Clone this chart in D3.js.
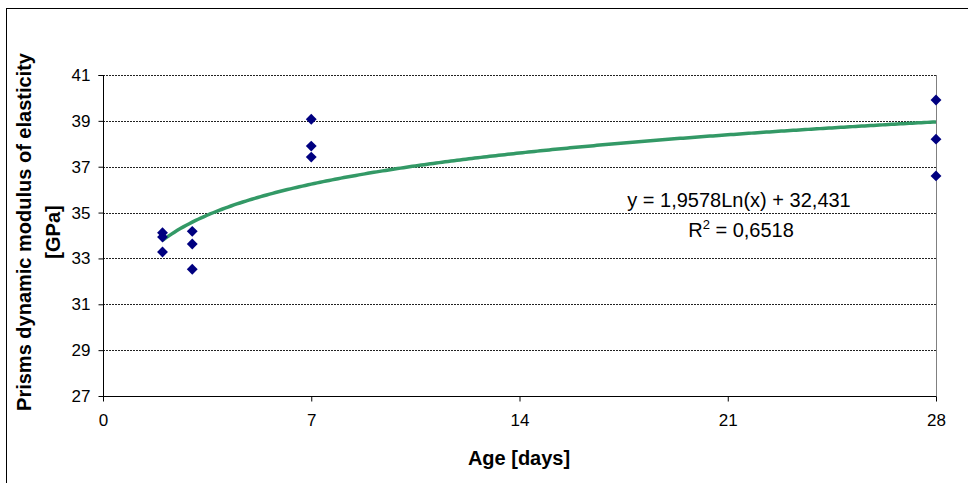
<!DOCTYPE html>
<html>
<head>
<meta charset="utf-8">
<script src="https://cdn.jsdelivr.net/npm/d3@7"></script>
<style>
  html, body { margin: 0; padding: 0; background: #fff; }
  svg { display: block; font-family: "Liberation Sans", Arial, sans-serif; }
</style>
</head>
<body>
<svg id="chart" width="968" height="483"></svg>
<script>
// Measured ages (days) and prism dynamic moduli (GPa)
const ageDays = [2, 2, 2, 3, 3, 3, 7, 7, 7, 28, 28, 28];
const modulusGPa = [34.12, 33.93, 33.28, 34.18, 33.63, 32.53, 39.07, 37.9, 37.42, 39.91, 38.2, 36.6];

// Logarithmic trendline y = a*ln(x) + b
const trendCoef = [1.9578, 32.431];
const trendRange = [2, 28];
const trendLabel = ["y = 1,9578Ln(x) + 32,431", "R", "2", " = 0,6518"];

// Axis ticks
const xTicks = [0, 7, 14, 21, 28];
const yTicks = [27, 29, 31, 33, 35, 37, 39, 41];
const xTitle = "Age [days]";
const yTitle = ["Prisms dynamic modulus of elasticity", "[GPa]"];

const svg = d3.select("#chart");
const plot = { left: 103, right: 936, top: 75, bottom: 396 };

const x = d3.scaleLinear().domain([0, 28]).range([plot.left, plot.right]);
const y = d3.scaleLinear().domain([27, 41]).range([plot.bottom, plot.top]);

// Outer chart frame (runs off the right and bottom edges)
svg.append("rect")
  .attr("x", 6.5).attr("y", 8.5)
  .attr("width", 1000).attr("height", 520)
  .attr("fill", "none").attr("stroke", "#000").attr("stroke-width", 1);

// Horizontal dashed gridlines
svg.append("g")
  .selectAll("line")
  .data(yTicks.filter(v => v !== 27))
  .join("line")
  .attr("x1", plot.left).attr("x2", plot.right)
  .attr("y1", d => Math.round(y(d)) + 0.5).attr("y2", d => Math.round(y(d)) + 0.5)
  .attr("stroke", "#222").attr("stroke-width", 1)
  .attr("stroke-dasharray", "2,1");

// Right plot-area edge
svg.append("line")
  .attr("x1", Math.round(plot.right) + 0.5).attr("x2", Math.round(plot.right) + 0.5)
  .attr("y1", plot.top).attr("y2", plot.bottom)
  .attr("stroke", "#808080").attr("stroke-width", 1);

// Y axis
const yAxis = d3.axisLeft(y).tickValues(yTicks).tickSize(5).tickPadding(8).tickFormat(d3.format("d"));
const gy = svg.append("g")
  .attr("transform", `translate(${plot.left + 0.5},0)`)
  .call(yAxis);
gy.select(".domain").attr("stroke", "#000").attr("d", `M-5,${plot.top + 0.5}H0V${plot.bottom + 0.5}`);
gy.selectAll(".tick line").attr("stroke", "#000");
gy.selectAll(".tick text").attr("font-size", 17).attr("fill", "#000")
  .attr("font-family", "Liberation Sans, Arial, sans-serif");

// X axis
const xAxis = d3.axisBottom(x).tickValues(xTicks).tickSize(5).tickPadding(12).tickFormat(d3.format("d"));
const gx = svg.append("g")
  .attr("transform", `translate(0,${plot.bottom + 0.5})`)
  .call(xAxis);
gx.select(".domain").attr("stroke", "#000").attr("d", `M${plot.left},0H${plot.right + 0.5}`);
gx.selectAll(".tick line").attr("stroke", "#000");
gx.selectAll(".tick text").attr("font-size", 17).attr("fill", "#000")
  .attr("font-family", "Liberation Sans, Arial, sans-serif");

// Trendline sampled along the age range
const trendPts = d3.range(trendRange[0], trendRange[1] + 0.001, 0.1)
  .map(t => [t, trendCoef[0] * Math.log(t) + trendCoef[1]]);
svg.append("path")
  .datum(trendPts)
  .attr("fill", "none")
  .attr("stroke", "#339966")
  .attr("stroke-width", 3.5)
  .attr("d", d3.line().x(d => x(d[0])).y(d => y(d[1])));

// Data markers (diamonds)
const diamond = d3.symbol().type(d3.symbolDiamond2).size(75);
svg.append("g")
  .selectAll("path")
  .data(ageDays.map((a, i) => [a, modulusGPa[i]]))
  .join("path")
  .attr("transform", d => `translate(${x(d[0])},${y(d[1])})`)
  .attr("d", diamond)
  .attr("fill", "#000080");

// Trendline equation and R²
const eq = svg.append("g").attr("font-size", 20).attr("fill", "#000").attr("text-anchor", "middle");
eq.append("text").attr("x", 739).attr("y", 207).text(trendLabel[0]);
const r2 = eq.append("text").attr("x", 741).attr("y", 237);
r2.append("tspan").text(trendLabel[1]);
r2.append("tspan").attr("font-size", 13).attr("dy", -8).text(trendLabel[2]);
r2.append("tspan").attr("dy", 8).text(trendLabel[3]);

// Axis titles
svg.append("text")
  .attr("x", 519).attr("y", 465)
  .attr("text-anchor", "middle")
  .attr("font-size", 20).attr("font-weight", "bold")
  .text(xTitle);

const yt = svg.append("text")
  .attr("transform", "translate(31,232) rotate(-90)")
  .attr("text-anchor", "middle")
  .attr("font-size", 20).attr("font-weight", "bold");
yt.append("tspan").attr("x", 0).attr("y", 0).text(yTitle[0]);
yt.append("tspan").attr("x", 0).attr("y", 29).text(yTitle[1]);
</script>
</body>
</html>
